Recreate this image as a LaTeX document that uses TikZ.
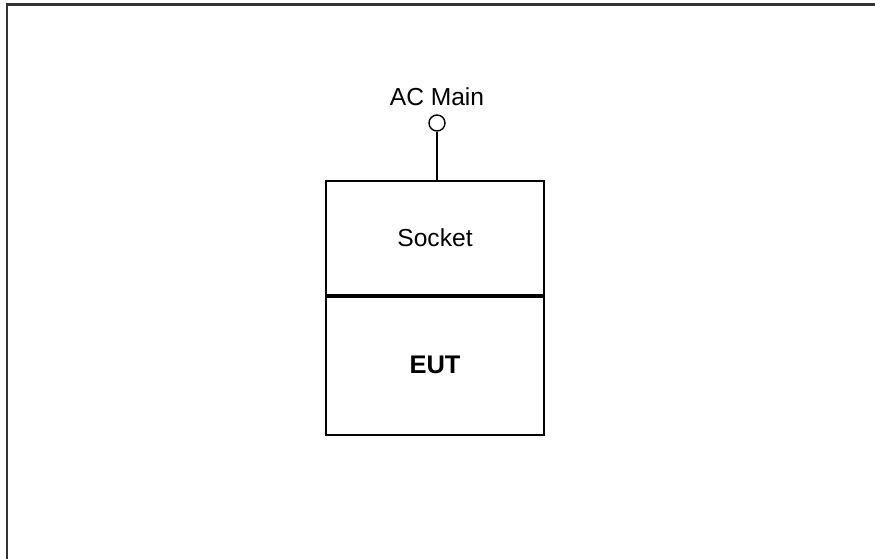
\documentclass[tikz,border=0pt]{standalone}
\usepackage{fontspec}
\setmainfont{Liberation Sans}
\usepackage{tikz}
\usetikzlibrary{positioning}

\begin{document}
\begin{tikzpicture}[x=0.02cm, y=-0.02cm,
        box/.style={draw, line width=1.1pt, minimum width=4.36cm, inner sep=0pt},
        font=\fontsize{14}{17}\selectfont]
        \useasboundingbox (0,0) rectangle (875,558);
        \draw[black!80, line width=1.6pt] (7,560) |- (876,4.5);
        \node [circle, draw, line width=0.8pt, minimum size=0.32cm, inner sep=0pt] (2) at (437,123) {};
        \node [above of=2, node distance=0.52cm] (1) {AC Main};
        \node [box, minimum height=2.28cm] (3) at (435,238) {Socket};
        \node [box, below of=3, node distance=2.54cm, minimum height=2.8cm, font=\fontsize{14.5}{17}\selectfont\bfseries] (4) {EUT};
        \draw[line width=2pt] (3.south west) -- (3.south east);
        \draw[line width=1pt] (2) -- (2 |- 3.north);
      \end{tikzpicture}
\end{document}
